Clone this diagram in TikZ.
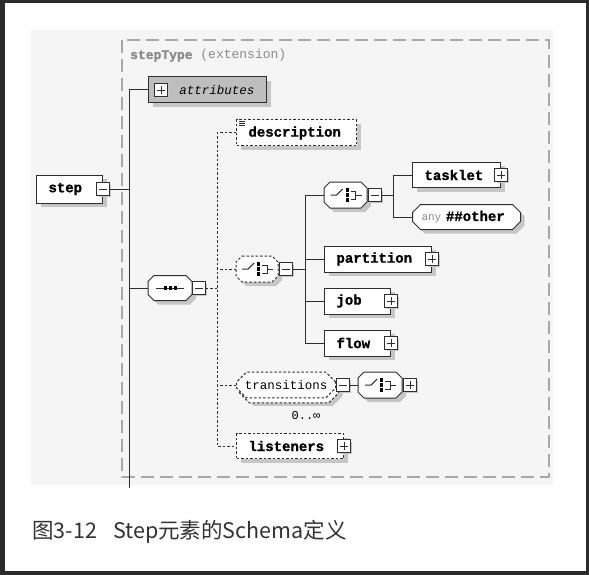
\documentclass[tikz,border=0pt]{standalone}
\usepackage{fontspec}
\setmonofont{Liberation Mono}[BoldFeatures={FakeBold=1.2}]
\newfontfamily\cjk{Noto Sans CJK SC}
\usetikzlibrary{shapes.misc, shadows, positioning}

\definecolor{framedark}{HTML}{2B2B2B}
\definecolor{panelgray}{HTML}{F5F5F5}
\definecolor{boxgray}{HTML}{A8A8A8}
\definecolor{labelgray}{HTML}{8A8A8A}
\definecolor{shadowgray}{HTML}{C6C6C6}
\definecolor{attrgray}{HTML}{BEBEBE}
\definecolor{linedark}{HTML}{2E2E2E}
\definecolor{captiongray}{HTML}{333333}

% Sequenz-Symbol
\newcommand{\seqicon}[1]{%
  \begin{scope}[shift={(#1)}, x=1pt, y=1pt]
    \draw[linedark, line width=1pt] (-14,0) -- (14,0);
    \foreach \dx in {-5,0,5}
      \fill[black] (\dx-1.7,-1.7) rectangle (\dx+1.7,1.7);
  \end{scope}}
% Auswahl-Symbol
\newcommand{\choiceicon}[1]{%
  \begin{scope}[shift={(#1)}, x=1pt, y=1pt]
    \draw[linedark, line width=1pt] (-15,0) -- (-9,0) -- (-3,6);
    \foreach \dy in {-5,0,5}
      \fill[black] (0,\dy-1.6) rectangle (3,\dy+1.6);
    \draw[linedark, line width=1pt] (5,4) -- (10,4) -- (10,-4) -- (5,-4);
    \draw[linedark, line width=1pt] (10,0) -- (16,0);
  \end{scope}}
% Kompositor: Achteck mit Namen
% [Stil]{Name}{links}{Mitte y}{Breite}{Hoehe}{Fase}
\newcommand{\compnode}[7][]{%
  \draw[#1] ({#3+#7},{#4-#6/2}) -- ({#3+#5-#7},{#4-#6/2}) -- ({#3+#5},{#4-#6/2+#7})
    -- ({#3+#5},{#4+#6/2-#7}) -- ({#3+#5-#7},{#4+#6/2}) -- ({#3+#7},{#4+#6/2})
    -- (#3,{#4+#6/2-#7}) -- (#3,{#4-#6/2+#7}) -- cycle;
  \node[minimum width=#5pt, minimum height=#6pt, inner sep=0pt, anchor=west] (#2) at (#3,#4) {};}

\begin{document}
\begin{tikzpicture}[
    x=1pt, y=-1pt,
    conn/.style={linedark, line width=1pt},
    optconn/.style={conn, dash pattern=on 2.5pt off 2pt},
    boxshadow/.style={general shadow={shadow xshift=4pt, shadow yshift=-4pt, fill=shadowgray}},
    elem/.style={draw=linedark, fill=white, line width=1pt, anchor=west,
        minimum height=26pt, inner xsep=12pt, inner ysep=0pt, align=left,
        font=\ttfamily\bfseries\fontsize{14}{14}\selectfont, boxshadow},
    optelem/.style={elem, dash pattern=on 2.5pt off 2pt},
    comp/.style={draw=linedark, fill=white, line width=1pt, boxshadow},
    optcomp/.style={comp, dash pattern=on 2.5pt off 2pt},
    chamf/.style={chamfered rectangle, draw=linedark, fill=white, line width=1pt,
        anchor=west, boxshadow},
    expbox/.style={draw=linedark, fill=white, line width=0.8pt, minimum size=12.5pt,
        inner sep=0pt, general shadow={shadow xshift=2pt, shadow yshift=-2pt, fill=shadowgray}},
    minusbox/.style={expbox, path picture={
        \draw[line width=0.8pt] ([xshift=2.5pt]path picture bounding box.west)
          -- ([xshift=-2.5pt]path picture bounding box.east);}},
    plusbox/.style={expbox, path picture={
        \draw[line width=0.8pt] ([xshift=2.5pt]path picture bounding box.west)
          -- ([xshift=-2.5pt]path picture bounding box.east);
        \draw[line width=0.8pt] ([yshift=-2.5pt]path picture bounding box.north)
          -- ([yshift=2.5pt]path picture bounding box.south);}}
]

% Rahmen und Hintergrund
\fill[framedark] (0,0) rectangle (589,575);
\fill[white] (5,3) rectangle (586,571);
\fill[panelgray] (31,30) rectangle (553,485);
\draw[boxgray, line width=1.4pt, dash pattern=on 13pt off 6pt] (122,40) rectangle (549,477);
\node[anchor=base west, text=labelgray, inner sep=0pt,
    font=\ttfamily\fontsize{13}{13}\selectfont] (typelabel) at (130,59)
    {\textbf{stepType} (extension)};

% Elemente
\node[elem, text width=42pt, minimum height=28pt] (step) at (36,189) {step};
\node[minusbox] (stepminus) at (step.east) {};

\node[elem, fill=attrgray, text width=94pt, align=right,
    font=\ttfamily\itshape\fontsize{12.5}{12.5}\selectfont] (attributes) at (148,90) {attributes};
\node[plusbox, general shadow={}] (attrplus) at (161,90) {};

\node[optelem, text width=96pt] (description) at (236,133) {description};
\draw[linedark, line width=0.7pt] ([xshift=3pt,yshift=-2pt]description.north west) -- ++(6,0)
    ([xshift=3pt,yshift=-4pt]description.north west) -- ++(6,0)
    ([xshift=3pt,yshift=-6pt]description.north west) -- ++(6,0);

\compnode[comp]{seq}{148}{288}{44}{25}{6}
\seqicon{seq.center}
\node[minusbox, anchor=west] (seqminus) at (seq.east) {};

\compnode[optcomp]{choice}{236}{269}{42}{26}{6}
\choiceicon{choice.center}
\node[minusbox, anchor=west] (choiceminus) at ([xshift=1pt]choice.east) {};

\compnode[comp]{pick}{324}{195}{43}{26}{6}
\choiceicon{pick.center}
\node[minusbox, anchor=west] (pickminus) at ([xshift=1pt]pick.east) {};

\node[elem, text width=64pt, minimum height=25pt] (tasklet) at (412,175) {tasklet};
\node[plusbox] (taskletplus) at (tasklet.east) {};

\node[chamf, chamfered rectangle xsep=4pt, chamfered rectangle ysep=4pt,
    minimum height=25pt, inner xsep=5pt, inner ysep=0pt, text width=90pt, align=left,
    font=\ttfamily\bfseries\fontsize{14}{14}\selectfont] (any) at (412,217)
    {{\mdseries\fontsize{11}{11}\selectfont\color{labelgray}any}\ \#\#other};

\node[elem, text width=83pt] (partition) at (324,259) {partition};
\node[plusbox] (partitionplus) at (partition.east) {};

\node[elem, text width=42pt] (job) at (324,301) {job};
\node[plusbox] (jobplus) at (job.east) {};

\node[elem, text width=42pt] (flow) at (324,343) {flow};
\node[plusbox] (flowplus) at (flow.east) {};

\node[chamf, dash pattern=on 2.5pt off 2pt, minimum width=96pt, minimum height=24pt,
    chamfered rectangle xsep=5pt, chamfered rectangle ysep=5pt,
    font=\ttfamily\fontsize{12.5}{12.5}\selectfont,
    general shadow={shadow xshift=7pt, shadow yshift=-8pt, fill=shadowgray},
    general shadow={shadow xshift=3pt, shadow yshift=-5pt, fill=white, draw=linedark,
        dash pattern=on 2.5pt off 2pt}] (transitions) at (236,385) {transitions};
\node[minusbox, anchor=west] (transminus) at (transitions.east) {};
\node[font=\ttfamily\fontsize{12}{12}\selectfont, inner sep=0pt] (occurs) at (306,416) {0..∞};

\compnode[comp]{transseq}{358}{385}{44}{26}{6}
\choiceicon{transseq.center}
\node[plusbox, anchor=west] (transplus) at ([xshift=1pt]transseq.east) {};

\node[optelem, text width=83pt, minimum height=25pt] (listeners) at (236,446) {listeners};
\node[plusbox] (listenersplus) at (listeners.east) {};

% Verbindungen
\coordinate (spinetop) at (129,90);
\coordinate (spinebot) at (129,488);
\draw[conn] (attributes.west) -- (spinetop) -- (spinebot);
\draw[conn] (stepminus.east) -- (stepminus.east -| spinetop);
\draw[conn] (seq.west) -- (seq.west -| spinetop);

\coordinate (optspine) at (217,133);
\draw[optconn] (seqminus.east) -- (seqminus.east -| optspine);
\draw[optconn] (description.west) -- (optspine) -- (listeners.west -| optspine) -- (listeners.west);
\draw[optconn] (choice.west) -- (choice.west -| optspine);
\draw[optconn] (transitions.west) -- (transitions.west -| optspine);

\coordinate (choicespine) at (305,195);
\draw[conn] (choiceminus.east) -- (choiceminus.east -| choicespine);
\draw[conn] (pick.west) -- (choicespine) -- (flow.west -| choicespine) -- (flow.west);
\draw[conn] (partition.west) -- (partition.west -| choicespine);
\draw[conn] (job.west) -- (job.west -| choicespine);

\coordinate (pickspine) at (393,175);
\draw[conn] (tasklet.west) -- (pickspine) -- (any.west -| pickspine) -- (any.west);
\draw[conn] (pickminus.east) -- (pickminus.east -| pickspine);

\draw[conn] (transminus.east) -- (transseq.west);

% Bildunterschrift
\node[anchor=base west, inner sep=0pt, text=captiongray,
    font=\cjk\fontsize{21.5}{21.5}\selectfont] (caption) at (32,538)
    {图3-12\hspace{0.75em}Step元素的Schema定义};
\end{tikzpicture}
\end{document}
